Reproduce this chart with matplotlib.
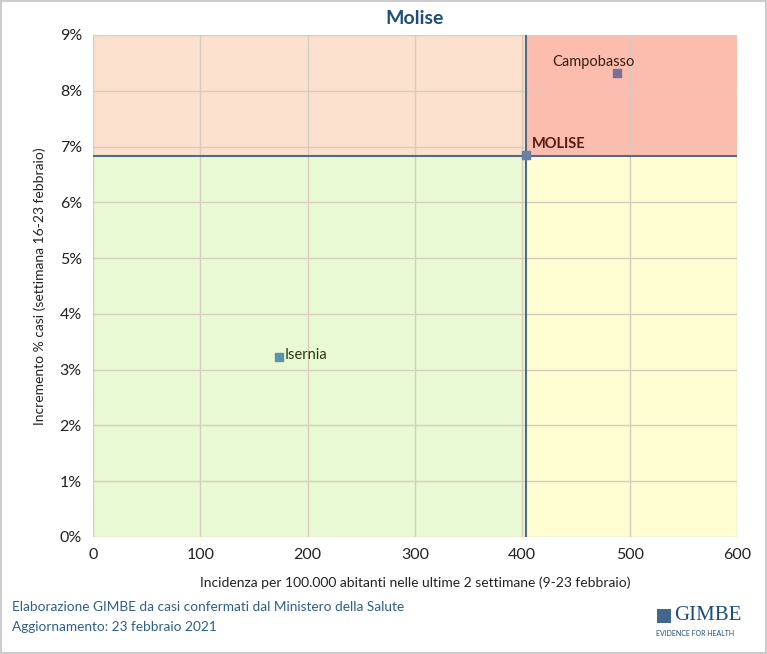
import matplotlib
matplotlib.use("Agg")
import matplotlib.pyplot as plt
from matplotlib.ticker import FuncFormatter
from matplotlib.patches import Rectangle

plt.rcParams['font.family'] = ['Lato', 'DejaVu Sans']

names = ["Campobasso", "MOLISE", "Isernia"]
incidence = [488, 403, 173]
increase = [8.32, 6.85, 3.22]
marker_colors = ["#7b6f93", "#6d7fa0", "#5e93ad"]
ref_x = 403
ref_y = 6.83

xticks = [0, 100, 200, 300, 400, 500, 600]
yticks = [0, 1, 2, 3, 4, 5, 6, 7, 8, 9]

fig = plt.figure(figsize=(7.67, 6.54), dpi=100)
ax = fig.add_axes([93/767, 1-537/654, (737-93)/767, (537-35)/654])

xmin, xmax, ymin, ymax = 0, 600, 0, 9
ax.add_patch(Rectangle((xmin, ref_y), ref_x-xmin, ymax-ref_y, color="#fbe1cd", zorder=0))
ax.add_patch(Rectangle((ref_x, ref_y), xmax-ref_x, ymax-ref_y, color="#fcbcae", zorder=0))
ax.add_patch(Rectangle((xmin, ymin), ref_x-xmin, ref_y-ymin, color="#e9f9d3", zorder=0))
ax.add_patch(Rectangle((ref_x, ymin), xmax-ref_x, ref_y-ymin, color="#fefed2", zorder=0))

ax.set_xlim(xmin, xmax)
ax.set_ylim(ymin, ymax)
ax.set_xticks(xticks)
ax.set_yticks(yticks)
ax.yaxis.set_major_formatter(FuncFormatter(lambda v, p: f"{int(v)}%"))
ax.grid(True, color="#d6ccc0", linewidth=1, zorder=1)
ax.set_axisbelow(False)
for s in ax.spines.values():
    s.set_visible(False)
ax.tick_params(length=0, labelsize=11.5, colors="#222222", pad=8)

ax.axvline(ref_x, color="#4f6b86", linewidth=1.5, zorder=3)
ax.axhline(ref_y, color="#4f6b86", linewidth=1.5, zorder=3)

for n, x, y, c in zip(names, incidence, increase, marker_colors):
    ax.scatter([x], [y], marker="s", s=30, color=c, zorder=5)

ax.annotate("Campobasso", (incidence[0], increase[0]), xytext=(-65, 7), textcoords="offset pixels",
            fontsize=10.5, color="#3a2010", zorder=6)
ax.annotate("MOLISE", (incidence[1], increase[1]), xytext=(6, 7), textcoords="offset pixels",
            fontsize=10.5, fontweight="bold", color="#5a1a10", zorder=6)
ax.annotate("Isernia", (incidence[2], increase[2]), xytext=(6, -2), textcoords="offset pixels",
            fontsize=10.5, color="#2a3a10", zorder=6)

ax.set_title("Molise", fontsize=14, fontweight="bold", color="#1f4e79", pad=8)
ax.set_xlabel("Incidenza per 100.000 abitanti nelle ultime 2 settimane (9-23 febbraio)",
              fontsize=10, color="#222222", labelpad=10)
ax.set_ylabel("Incremento % casi (settimana 16-23 febbraio)", fontsize=10, color="#222222", labelpad=10)

fig.text(12/767, 1-607/654, "Elaborazione GIMBE da casi confermati dal Ministero della Salute",
         fontsize=9.8, color="#2e5f8a", va="center")
fig.text(12/767, 1-627/654, "Aggiornamento: 23 febbraio 2021",
         fontsize=9.8, color="#2e5f8a", va="center")

fig.text(674/767, 1-615/654, "GIMBE", fontsize=15, family="Liberation Serif", color="#1f4e79",
         va="center", ha="left")
fig.text(656/767, 1-633/654, "EVIDENCE FOR HEALTH", fontsize=5, color="#1f4e79", va="center", ha="left")
fig.patches.append(Rectangle((657/767, 1-623/654), 14/767, 14/654, transform=fig.transFigure,
                             facecolor="#1f4e79", edgecolor="none", alpha=0.85))

fig.patches.append(Rectangle((1/767, 1/654), 765/767, 652/654, transform=fig.transFigure,
                             facecolor="none", edgecolor="#cccccc", linewidth=1.5))

fig.savefig("out.png", dpi=100, facecolor="white")
